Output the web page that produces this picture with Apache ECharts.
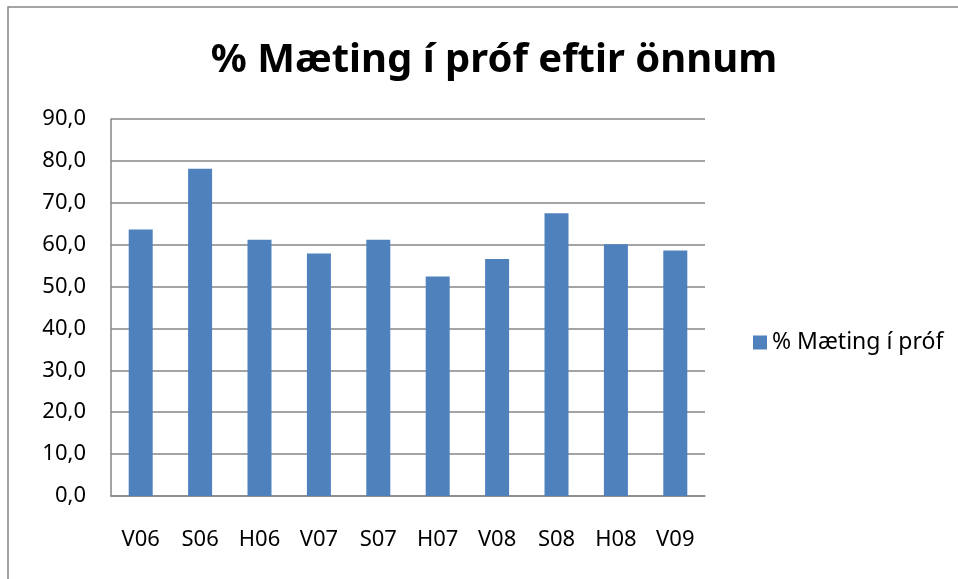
<!DOCTYPE html>
<html>
<head>
<meta charset="utf-8">
<script src="https://cdn.jsdelivr.net/npm/echarts@6/dist/echarts.min.js"></script>
<style>
  html, body { margin: 0; padding: 0; background: #fff; }
  #chart { width: 958px; height: 579px; }
</style>
</head>
<body>
<div id="chart"></div>
<script>
var chartTitle = "% Mæting í próf eftir önnum";
var seriesName = "% Mæting í próf";
var categories = ["V06", "S06", "H06", "V07", "S07", "H07", "V08", "S08", "H08", "V09"];
var attendance = [63.6, 78.1, 61.2, 57.9, 61.2, 52.4, 56.6, 67.5, 60.1, 58.6];
var yMin = 0, yMax = 90, yStep = 10;

var font = "'Noto Sans', 'DejaVu Sans', sans-serif";
var chart = echarts.init(document.getElementById("chart"));

var option = {
  animation: false,
  backgroundColor: "#fff",
  title: {
    text: chartTitle,
    left: 489,
    textAlign: "center",
    top: 36,
    textStyle: { fontFamily: font, fontWeight: "bold", fontSize: 40, color: "#000" }
  },
  grid: { left: 111, right: 253, top: 119, bottom: 83 },
  legend: {
    data: [seriesName],
    left: 748,
    top: 326,
    itemWidth: 14,
    itemHeight: 14,
    itemGap: 6,
    icon: "rect",
    textStyle: { fontFamily: font, fontSize: 23, color: "#000" }
  },
  xAxis: {
    type: "category",
    data: categories,
    axisLine: { lineStyle: { color: "#868686", width: 1.5 } },
    axisTick: { show: false },
    axisLabel: { fontFamily: font, fontSize: 22, color: "#000", margin: 33 }
  },
  yAxis: {
    type: "value",
    min: yMin,
    max: yMax,
    interval: yStep,
    axisLine: { show: true, lineStyle: { color: "#868686", width: 1.5 } },
    axisTick: { show: false },
    splitLine: { lineStyle: { color: "#868686", width: 1.5 } },
    axisLabel: {
      fontFamily: font, fontSize: 22, color: "#000", margin: 25,
      formatter: function (v) { return v.toFixed(1).replace(".", ","); }
    }
  },
  series: [{
    name: seriesName,
    type: "bar",
    data: attendance,
    barWidth: 24,
    itemStyle: { color: "#4F81BD" }
  }],
  graphic: [{
    type: "rect",
    shape: { x: 8, y: 7, width: 1000, height: 700 },
    style: { fill: "none", stroke: "#868686", lineWidth: 1.5 },
    z: 100
  }]
};
chart.setOption(option);
</script>
</body>
</html>
